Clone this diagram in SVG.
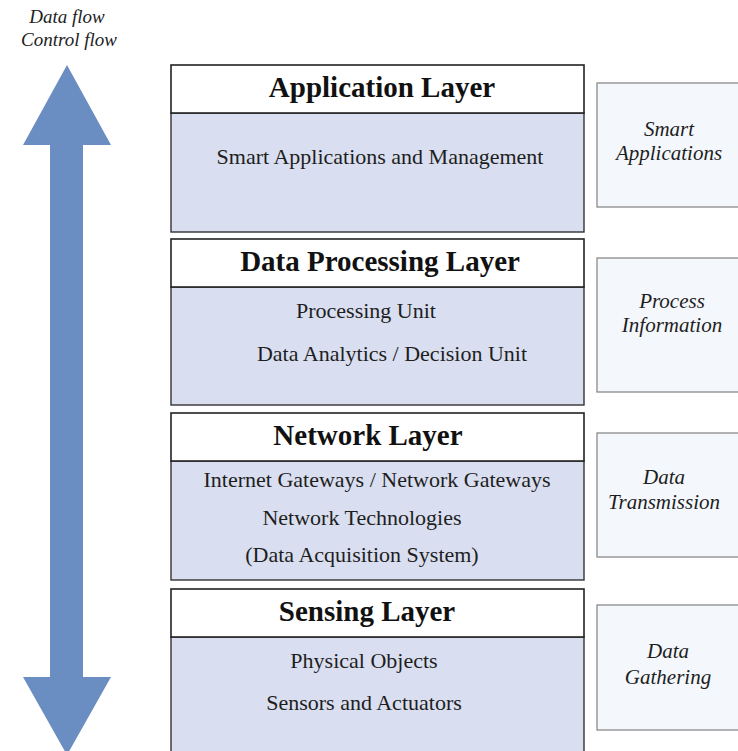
<svg xmlns="http://www.w3.org/2000/svg" width="738" height="751" viewBox="0 0 738 751">
  <style>
    .hdr { fill: #ffffff; stroke: #222; stroke-width: 1.6; }
    .body { fill: #d9dff0; stroke: #333; stroke-width: 1.4; }
    .side { fill: #f4f7fb; stroke: #8a8a8a; stroke-width: 1.3; }
    .title { font-family: "Liberation Serif", "Times New Roman", serif; font-weight: bold; font-size: 29px; fill: #111; text-anchor: middle; }
    .item { font-family: "Liberation Serif", "Times New Roman", serif; font-size: 22px; fill: #1e1e1e; text-anchor: middle; }
    .note { font-family: "Liberation Serif", "Times New Roman", serif; font-style: italic; font-size: 21px; fill: #1e1e1e; text-anchor: middle; }
    .flow { font-family: "Liberation Serif", "Times New Roman", serif; font-style: italic; font-size: 19px; fill: #1e1e1e; text-anchor: middle; }
  </style>

  <rect width="738" height="751" fill="#ffffff"/>

  <!-- flow legend -->
  <g id="legend">
    <text class="flow" x="67" y="23">Data flow</text>
    <text class="flow" x="69" y="46">Control flow</text>
  </g>

  <!-- double-headed flow arrow -->
  <g id="connectors">
    <path d="M67,65 L111,145 L83,145 L83,677 L111,677 L67,755 L23,677 L50,677 L50,145 L23,145 Z" fill="#6b8ec2"/>
  </g>

  <!-- Application layer -->
  <g id="application-layer">
    <rect class="body" x="171" y="113" width="413" height="119"/>
    <rect class="hdr" x="171" y="65" width="413" height="48"/>
    <text class="title" x="382" y="97">Application Layer</text>
    <text class="item" x="380" y="164">Smart Applications and Management</text>
  </g>

  <!-- Data processing layer -->
  <g id="data-processing-layer">
    <rect class="body" x="171" y="287" width="413" height="118"/>
    <rect class="hdr" x="171" y="239" width="413" height="48"/>
    <text class="title" x="380" y="271">Data Processing Layer</text>
    <text class="item" x="366" y="318">Processing Unit</text>
    <text class="item" x="392" y="361">Data Analytics / Decision Unit</text>
  </g>

  <!-- Network layer -->
  <g id="network-layer">
    <rect class="body" x="171" y="461" width="413" height="119"/>
    <rect class="hdr" x="171" y="413" width="413" height="48"/>
    <text class="title" x="368" y="445">Network Layer</text>
    <text class="item" x="377" y="487">Internet Gateways / Network Gateways</text>
    <text class="item" x="362" y="525">Network Technologies</text>
    <text class="item" x="362" y="562">(Data Acquisition System)</text>
  </g>

  <!-- Sensing layer -->
  <g id="sensing-layer">
    <rect class="body" x="171" y="637" width="413" height="130"/>
    <rect class="hdr" x="171" y="589" width="413" height="48"/>
    <text class="title" x="367" y="621">Sensing Layer</text>
    <text class="item" x="364" y="668">Physical Objects</text>
    <text class="item" x="364" y="710">Sensors and Actuators</text>
  </g>

  <!-- Function labels -->
  <g id="smart-applications">
    <rect class="side" x="597" y="83" width="160" height="124"/>
    <text class="note" x="669" y="136">Smart</text>
    <text class="note" x="669" y="160">Applications</text>
  </g>
  <g id="process-information">
    <rect class="side" x="597" y="258" width="160" height="134"/>
    <text class="note" x="672" y="308">Process</text>
    <text class="note" x="672" y="332">Information</text>
  </g>
  <g id="data-transmission">
    <rect class="side" x="597" y="433" width="160" height="124"/>
    <text class="note" x="664" y="484">Data</text>
    <text class="note" x="664" y="509">Transmission</text>
  </g>
  <g id="data-gathering">
    <rect class="side" x="597" y="605" width="160" height="125"/>
    <text class="note" x="668" y="658">Data</text>
    <text class="note" x="668" y="684">Gathering</text>
  </g>
</svg>
